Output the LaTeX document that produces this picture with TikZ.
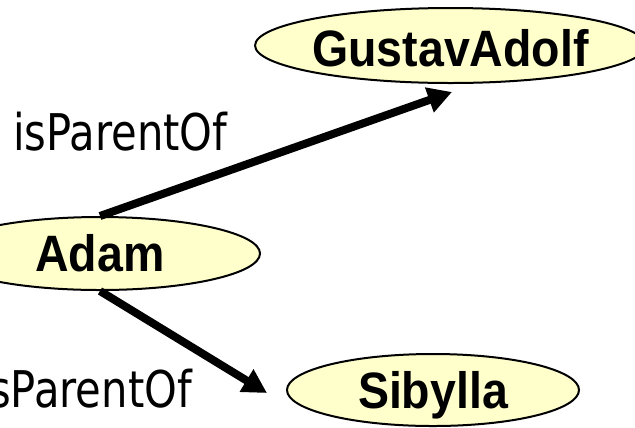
\documentclass[tikz,border=0pt]{standalone}
\usepackage{fontspec}
\setmainfont{Liberation Sans}
\newfontfamily\relfont{DejaVu Sans}
\usetikzlibrary{shapes.geometric,arrows.meta}
\definecolor{nodefill}{HTML}{FFFFCC}
\tikzset{
  entity/.style={ellipse, draw=black, line width=2bp, fill=nodefill, inner sep=0pt,
    font=\fontsize{46.5bp}{50bp}\selectfont\bfseries, text depth=0pt, text height=36.6bp},
  relation/.style={inner sep=0pt, font=\relfont\fontsize{46bp}{50bp}\selectfont},
  relarrow/.style={line width=8bp, -{Triangle[length=24bp,width=25bp]}}
}
\newcommand{\tallbold}[1]{\scalebox{1}[1.1]{#1}}
\newcommand{\tallrel}[1]{\scalebox{0.906}[1.1]{#1}}
\begin{document}
\begin{tikzpicture}[x=1bp,y=-1bp]
  \useasboundingbox (0,0) rectangle (635,427);
  % individuals
  \node[entity, minimum width=365bp, minimum height=75bp, text height=42.6bp] (gustav) at (450.5,45.5) {\tallbold{GustavAdolf}};
  \node[entity, minimum width=320bp, minimum height=73bp] (adam) at (100,253.5) {\tallbold{Adam}};
  \node[entity, minimum width=292bp, minimum height=72bp] (sibylla) at (433,390) {\tallbold{Sibylla}};
  % arrow tips stop short of the target ellipses
  \coordinate (gtip) at (452,92);
  \coordinate (stip) at (267,393);
  % isParentOf relations
  \draw[relarrow] (adam.north) -- (gtip);
  \draw[relarrow] (adam.south) -- (stip);
  \node[relation, anchor=base west] (rel1) at (13,150) {\tallrel{isParentOf}};
  \node[relation, anchor=base east] (rel2) at (192,407) {\tallrel{isParentOf}};
\end{tikzpicture}
\end{document}
